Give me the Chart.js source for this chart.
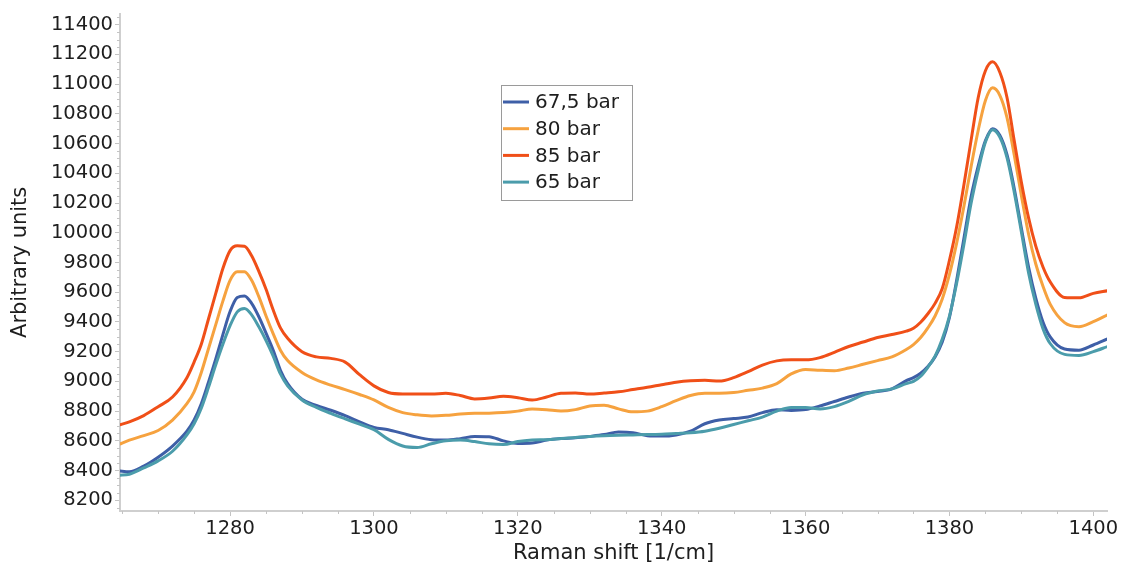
<!DOCTYPE html>
<html>
<head>
<meta charset="utf-8">
<script src="https://cdn.jsdelivr.net/npm/chart.js@4.4.1/dist/chart.umd.min.js"></script>
<style>
  html, body { margin: 0; padding: 0; background: #ffffff; }
  #wrap { width: 1130px; height: 566px; }
</style>
</head>
<body>
<div id="wrap"><canvas id="c" width="1130" height="566"></canvas></div>
<script>
// Raman shift [1/cm]
const ramanShift = [
  1264.5, 1266, 1268, 1270, 1272, 1274,
  1275, 1276, 1277, 1278, 1279, 1280, 1281, 1282, 1283, 1284, 1285, 1286, 1287, 1288,
  1290, 1292, 1294, 1296, 1298, 1300, 1302, 1304, 1306, 1308, 1310, 1312, 1314, 1316, 1318,
  1320, 1322, 1324, 1326, 1328, 1330, 1332, 1334, 1336, 1338, 1340, 1342, 1344, 1346, 1348,
  1350, 1352, 1354, 1356, 1358, 1360, 1362, 1364, 1366, 1368, 1370, 1372, 1374,
  1375, 1376, 1377, 1378, 1379, 1380, 1381, 1382, 1383, 1384, 1385, 1386, 1387, 1388, 1389,
  1390, 1391, 1392, 1393, 1394,
  1396, 1398, 1400, 1402
];

const seriesLabels = ["67,5 bar", "80 bar", "85 bar", "65 bar"];

const bar67_5 = [
  8398, 8392, 8430, 8490, 8565, 8665,
  8740, 8850, 8995, 9150, 9315, 9470, 9565, 9575, 9525, 9435, 9325, 9210, 9075, 8985,
  8880, 8838, 8806, 8770, 8727, 8690, 8675, 8650, 8625, 8608, 8605, 8615, 8630, 8628, 8600,
  8582, 8585, 8605, 8615, 8620, 8630, 8642, 8660, 8655, 8635, 8632, 8640, 8665, 8715, 8740,
  8750, 8760, 8790, 8810, 8805, 8810, 8835, 8865, 8895, 8920, 8932, 8950, 9005,
  9025, 9055, 9100, 9165, 9265, 9430, 9680, 9960, 10241, 10450, 10620, 10700, 10656, 10525, 10300,
  10030, 9770, 9560, 9400, 9300,
  9218, 9210, 9245, 9286
];

const bar80 = [
  8575, 8605, 8635, 8670, 8740, 8850,
  8930, 9060, 9220, 9380, 9540, 9680, 9738, 9738, 9680, 9570, 9440, 9320, 9210, 9140,
  9060, 9010, 8975, 8945, 8912, 8875, 8825, 8790, 8775, 8768, 8772, 8780, 8785, 8786, 8790,
  8800, 8815, 8810, 8800, 8810, 8835, 8840, 8815, 8795, 8800, 8830, 8870, 8905, 8920, 8920,
  8925, 8940, 8955, 8985, 9050, 9080, 9075, 9072, 9090, 9115, 9140, 9165, 9215,
  9248, 9295, 9360, 9440, 9555, 9720, 9930, 10175, 10443, 10690, 10890, 10975, 10925, 10775, 10525,
  10250, 9990, 9790, 9640, 9520,
  9395, 9368, 9402, 9448
];

const bar85 = [
  8705, 8728, 8770, 8830, 8895, 9025,
  9130, 9250, 9420, 9590, 9760, 9880, 9912, 9910, 9845, 9740, 9620, 9480, 9360, 9290,
  9200, 9165, 9155, 9130, 9045, 8970, 8925, 8915, 8915, 8915, 8920, 8905, 8882, 8888, 8900,
  8890, 8875, 8895, 8920, 8922, 8915, 8922, 8930, 8945, 8960, 8978, 8995, 9005, 9008, 9002,
  9025, 9065, 9110, 9138, 9145, 9145, 9160, 9195, 9235, 9265, 9295, 9315, 9338,
  9358, 9398, 9455, 9525, 9625, 9815, 10040, 10320, 10620, 10910, 11090, 11150, 11080, 10910, 10620,
  10340, 10100, 9910, 9770, 9670,
  9565, 9562, 9592, 9610
];

const bar65 = [
  8368, 8375, 8418, 8465, 8530, 8640,
  8715, 8820, 8960, 9110, 9250, 9375, 9468, 9490, 9448, 9367, 9275, 9170, 9050, 8970,
  8875, 8825, 8785, 8748, 8712, 8675, 8610, 8565, 8555, 8580, 8600, 8605, 8595, 8580, 8575,
  8595, 8605, 8608, 8615, 8622, 8630, 8635, 8638, 8640, 8642, 8645, 8650, 8655, 8665, 8685,
  8710, 8735, 8760, 8800, 8825, 8825, 8815, 8830, 8865, 8910, 8935, 8950, 8985,
  9000, 9035, 9095, 9170, 9285, 9440, 9660, 9920, 10197, 10420, 10610, 10694, 10644, 10505, 10275,
  10005, 9730, 9520, 9355, 9255,
  9182, 9175, 9200, 9235
];

const xTickStep = 20;
const yTickStep = 200;

const FONT = "'DejaVu Sans', Verdana, sans-serif";
const colors = ["#3e5fa7", "#f6a23f", "#f04f18", "#4b9cab"];
const seriesValues = [bar67_5, bar80, bar85, bar65];
const drawOrder = [4, 3, 2, 1];

const pts = vals => vals.map((v, i) => ({ x: ramanShift[i], y: v }));

function stepTicks(scale, step) {
  const out = [];
  for (let v = Math.ceil(scale.min / step) * step; v <= scale.max + 1e-9; v += step) {
    out.push({ value: v });
  }
  scale.ticks = out;
}

const minorTicks = {
  id: 'minorTicks',
  afterDraw(chart) {
    const ctx = chart.ctx;
    const xs = chart.scales.x, ys = chart.scales.y;
    ctx.save();
    ctx.strokeStyle = '#c4c4c4';
    ctx.lineWidth = 1;
    ctx.beginPath();
    for (let v = Math.ceil(xs.min / 5) * 5; v <= xs.max; v += 5) {
      if (v % xTickStep === 0) continue;
      const px = Math.round(xs.getPixelForValue(v)) + 0.5;
      ctx.moveTo(px, xs.top);
      ctx.lineTo(px, xs.top + 3);
    }
    for (let v = Math.ceil(ys.min / 50) * 50; v <= ys.max; v += 50) {
      if (v % yTickStep === 0) continue;
      const py = Math.round(ys.getPixelForValue(v)) + 0.5;
      ctx.moveTo(ys.right - 3, py);
      ctx.lineTo(ys.right, py);
    }
    ctx.stroke();
    ctx.restore();
  }
};

const boxLegend = {
  id: 'boxLegend',
  afterDraw(chart, args, opts) {
    const ctx = chart.ctx;
    ctx.save();
    ctx.fillStyle = '#ffffff';
    ctx.fillRect(opts.x, opts.y, opts.w, opts.h);
    ctx.strokeStyle = '#9a9a9a';
    ctx.lineWidth = 1;
    ctx.strokeRect(opts.x + 0.5, opts.y + 0.5, opts.w, opts.h);
    ctx.font = opts.fontSize + "px " + FONT;
    ctx.textBaseline = 'middle';
    ctx.textAlign = 'left';
    chart.data.datasets.forEach((ds, i) => {
      const cy = opts.y + opts.firstRow + i * opts.rowH;
      ctx.strokeStyle = ds.borderColor;
      ctx.lineWidth = 3;
      ctx.beginPath();
      ctx.moveTo(opts.x + 2, cy);
      ctx.lineTo(opts.x + 28, cy);
      ctx.stroke();
      ctx.fillStyle = '#1e1e1e';
      ctx.fillText(ds.label, opts.x + 34, cy + 1);
    });
    ctx.restore();
  }
};

new Chart(document.getElementById('c'), {
  type: 'line',
  data: {
    datasets: seriesLabels.map((lab, i) => ({
      label: lab,
      data: pts(seriesValues[i]),
      borderColor: colors[i],
      backgroundColor: colors[i],
      borderWidth: 3,
      pointRadius: 0,
      fill: false,
      cubicInterpolationMode: 'monotone',
      order: drawOrder[i]
    }))
  },
  options: {
    responsive: false,
    animation: false,
    devicePixelRatio: 1,
    layout: { padding: { top: 13, right: 23, left: 0, bottom: 0 } },
    plugins: {
      legend: { display: false },
      tooltip: { enabled: false },
      boxLegend: { x: 501, y: 85, w: 131, h: 115, firstRow: 17, rowH: 26.7, fontSize: 20 }
    },
    scales: {
      x: {
        type: 'linear',
        min: 1264.7,
        max: 1401.9,
        afterFit: s => { s.height = 55; },
        afterBuildTicks: s => stepTicks(s, xTickStep),
        ticks: { font: { family: FONT, size: 19.5 }, color: '#1e1e1e', padding: 1, maxRotation: 0, autoSkip: false, callback: v => String(v) },
        grid: { drawOnChartArea: false, tickLength: 5, tickColor: '#c4c4c4', tickWidth: 1 },
        border: { color: '#cfcfcf', width: 2 },
        title: { display: true, text: 'Raman shift [1/cm]', font: { family: FONT, size: 21 }, color: '#1e1e1e', padding: { top: -2, bottom: 0 } }
      },
      y: {
        type: 'linear',
        min: 8128,
        max: 11474,
        afterFit: s => { s.width = 120; },
        afterBuildTicks: s => stepTicks(s, yTickStep),
        ticks: { font: { family: FONT, size: 19.5 }, color: '#1e1e1e', padding: 2, autoSkip: false, callback: v => String(v) },
        grid: { drawOnChartArea: false, tickLength: 5, tickColor: '#c4c4c4', tickWidth: 1 },
        border: { color: '#cfcfcf', width: 2 },
        title: { display: true, text: 'Arbitrary units', font: { family: FONT, size: 21 }, color: '#1e1e1e', padding: { top: 8, bottom: 0 } }
      }
    }
  },
  plugins: [minorTicks, boxLegend]
});
</script>
</body>
</html>
